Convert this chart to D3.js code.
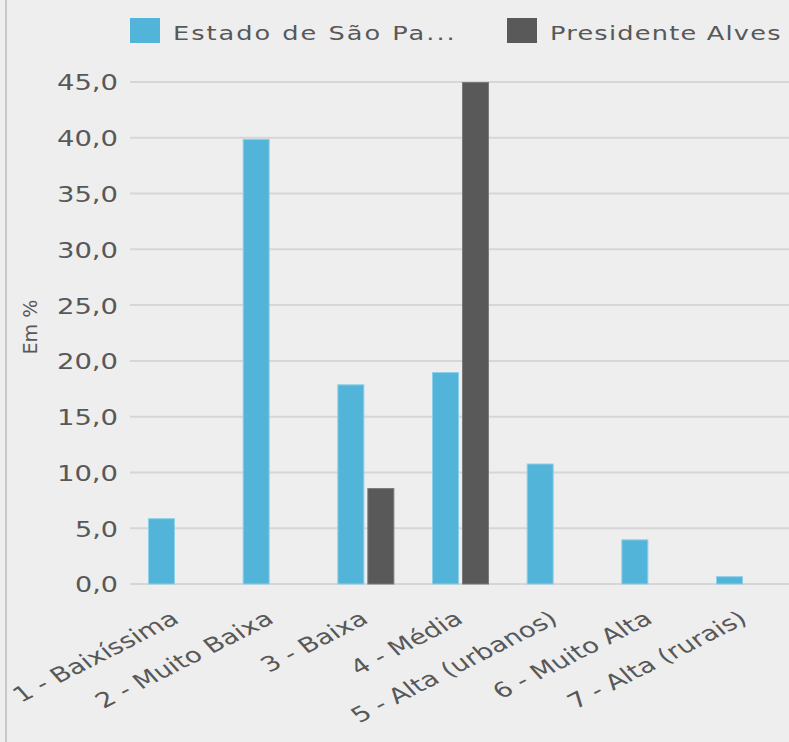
<!DOCTYPE html>
<html>
<head>
<meta charset="utf-8">
<script src="https://cdn.jsdelivr.net/npm/d3@7"></script>
<style>
  html, body { margin: 0; padding: 0; background: #eeeeee; }
  svg { display: block; }
  text { font-family: "DejaVu Sans", Verdana, sans-serif; fill: #585858; }
</style>
</head>
<body>
<svg id="chart" width="789" height="742"></svg>
<script>
const categories = ["1 - Baixíssima", "2 - Muito Baixa", "3 - Baixa", "4 - Média", "5 - Alta (urbanos)", "6 - Muito Alta", "7 - Alta (rurais)"];
const seriesNames = ["Estado de São Pa...", "Presidente Alves"];
const estadoValues = [5.9, 39.9, 17.9, 19.0, 10.8, 4.0, 0.7];
const presidenteValues = [0, 0, 8.6, 45.0, 0, 0, 0];
const yTicks = [0, 5, 10, 15, 20, 25, 30, 35, 40, 45];
const yLabel = "Em %";
const colors = ["#52b4d8", "#595959"];
const strokes = ["#8fcfe8", "#7a7a7a"];

const W = 789, H = 742;
const SX = 1.97, SY = 1.48; // glyph stretch of the original rendering

const svg = d3.select("#chart");
svg.append("rect").attr("width", W).attr("height", H).attr("fill", "#eeeeee");
svg.append("line").attr("x1", 6).attr("x2", 6).attr("y1", 0).attr("y2", H)
  .attr("stroke", "#c9c9c9").attr("stroke-width", 2);

const y = d3.scaleLinear().domain([0, 45]).range([584, 82]);
const x0 = d3.scaleBand().domain(categories).range([129.2, 129.2 + 7 * 94.67]).padding(0);
const x1 = d3.scaleBand().domain(seriesNames).range([18.8, 75.8]).paddingInner(0.1).paddingOuter(0);

const fmt = v => d3.format(".1f")(v).replace(".", ",");

// gridlines
svg.append("g").selectAll("line").data(yTicks).join("line")
  .attr("x1", 130).attr("x2", W)
  .attr("y1", d => y(d)).attr("y2", d => y(d))
  .attr("stroke", "#d6d6d6").attr("stroke-width", 2);

// y tick labels
svg.append("g").selectAll("text").data(yTicks).join("text")
  .attr("transform", d => `translate(118,${y(d) + 1}) scale(${SX},${SY})`)
  .attr("text-anchor", "end").attr("dy", "0.36em")
  .attr("font-size", 14)
  .attr("textLength", d => fmt(d).length === 4 ? 31 : 21.8)
  .attr("lengthAdjust", "spacingAndGlyphs")
  .text(fmt);

// y axis label
svg.append("text")
  .attr("transform", `translate(37,327) scale(${SY},1.47) rotate(-90)`)
  .attr("text-anchor", "middle")
  .attr("font-size", 13)
  .text(yLabel);

// bars
const seriesData = [estadoValues, presidenteValues];
const groups = svg.append("g").selectAll("g").data(categories).join("g")
  .attr("transform", d => `translate(${x0(d)},0)`);
groups.selectAll("rect")
  .data((c, i) => seriesNames.map((s, k) => ({ s, k, v: seriesData[k][i] })).filter(d => d.v > 0))
  .join("rect")
  .attr("x", d => x1(d.s) + 0.5)
  .attr("width", x1.bandwidth() - 1)
  .attr("y", d => y(d.v) + 0.5)
  .attr("height", d => y(0) - y(d.v) - 0.5)
  .attr("fill", d => colors[d.k])
  .attr("stroke", d => strokes[d.k])
  .attr("stroke-width", 1);

// x labels
svg.append("g").selectAll("text").data(categories).join("text")
  .attr("transform", d => `translate(${x0(d) + x0.bandwidth() / 2 + 4},622) scale(${SX},${SY}) rotate(-34)`)
  .attr("text-anchor", "end")
  .attr("font-size", 14)
  .text(d => d);

// legend
const legendX = [130, 507];
const legendLen = [143, 117];
const leg = svg.append("g").selectAll("g").data(seriesNames).join("g");
leg.append("rect")
  .attr("x", (d, i) => legendX[i]).attr("y", 18)
  .attr("width", 30).attr("height", 25)
  .attr("fill", (d, i) => colors[i]);
leg.append("text")
  .attr("transform", (d, i) => `translate(${legendX[i] + 43},39.5) scale(${SX},${SY})`)
  .attr("font-size", 13)
  .attr("textLength", (d, i) => legendLen[i])
  .attr("lengthAdjust", "spacing")
  .text(d => d);
</script>
</body>
</html>
